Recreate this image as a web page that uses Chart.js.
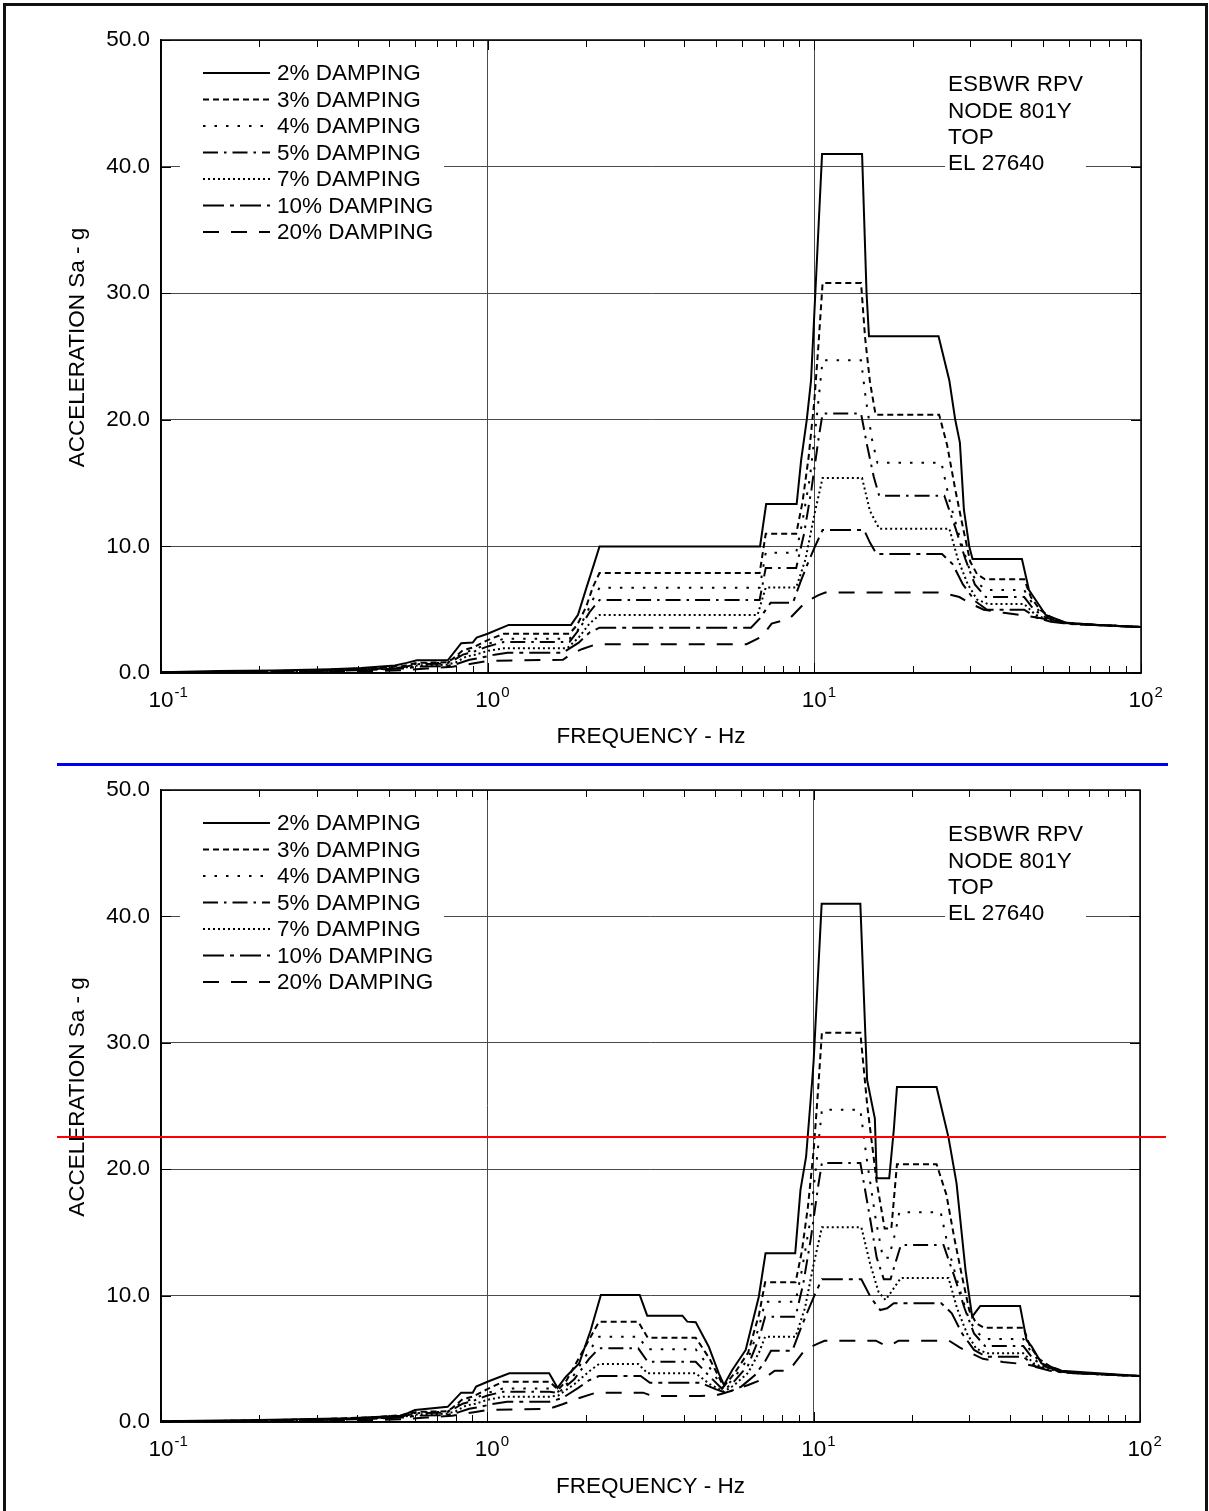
<!DOCTYPE html>
<html>
<head>
<meta charset="utf-8">
<title>ESBWR RPV Node 801Y - Response Spectra</title>
<script src="https://cdn.jsdelivr.net/npm/chart.js@4.4.1/dist/chart.umd.min.js"></script>
<style>
  html, body { margin: 0; padding: 0; background: #fff; }
  body { width: 1209px; height: 1511px; position: relative; overflow: hidden; }
  .frame { position: absolute; left: 3px; top: 3px; width: 1205px; height: 1560px;
           border: 3px solid #111; box-sizing: border-box; }
  .wrap { position: absolute; left: 0; width: 1209px; height: 760px; }
  #topWrap { top: 0; }
  #botWrap { top: 750px; }
  canvas { display: block; }
  .rule { position: absolute; height: 2px; }
  #blueRule { left: 57px; width: 1111px; top: 763px; background: #0000f0; height: 3px; }
  #redRule { left: 57px; width: 1109px; top: 1136px; background: #ff0000; }
</style>
</head>
<body>
<div class="frame"></div>
<div class="wrap" id="topWrap"><canvas id="cTop" width="1209" height="760"></canvas></div>
<div class="wrap" id="botWrap"><canvas id="cBot" width="1209" height="760"></canvas></div>
<div class="rule" id="blueRule"></div>
<div class="rule" id="redRule"></div>

<script>
// ---- labels and ticks ----
const DAMPING = [2, 3, 4, 5, 7, 10, 20];
const FREQ_DECADES = [0.1, 1, 10, 100];
const FREQ_DECADE_BASE = '10';
const FREQ_DECADE_EXP = ['-1', '0', '1', '2'];
const ACC_MIN = 0, ACC_MAX = 50, ACC_STEP = 10;
const NOTE_LINES = ['ESBWR RPV', 'NODE 801Y', 'TOP', 'EL 27640'];
const X_TITLE = 'FREQUENCY - Hz';
const Y_TITLE = 'ACCELERATION Sa - g';

// ---- upper spectra (frequency Hz / acceleration g) ----
const upF2 = [0.1, 0.15, 0.22, 0.33, 0.41, 0.52, 0.565, 0.607, 0.755, 0.83, 0.90, 0.925, 1.0, 1.16, 1.80, 1.89, 2.01, 2.11, 2.20, 6.82, 7.12, 8.83, 9.11, 9.48, 9.77, 10.07, 10.56, 14.0, 14.45, 14.7, 24.0, 25.9, 27.0, 27.9, 28.7, 29.8, 30.5, 43.2, 45.4, 47.6, 51.1, 58.9, 74.4, 100];
const upA2 = [0.05, 0.15, 0.2, 0.3, 0.4, 0.6, 0.8, 1.0, 1.0, 2.35, 2.4, 2.8, 3.1, 3.8, 3.8, 4.6, 6.8, 8.5, 10.0, 10.0, 13.35, 13.35, 16.8, 20.0, 23.1, 30.0, 41.0, 41.0, 30.0, 26.6, 26.6, 23.1, 20.0, 18.2, 12.9, 10.0, 9.0, 9.0, 6.55, 5.77, 4.58, 3.97, 3.79, 3.63];

const upF3 = [0.1, 0.2, 0.33, 0.45, 0.55, 0.61, 0.75, 0.78, 0.84, 0.9, 1.0, 1.12, 1.78, 1.88, 2.0, 2.1, 2.2, 6.8, 7.1, 8.8, 9.2, 9.6, 10.0, 10.3, 10.6, 13.9, 14.3, 14.8, 15.4, 24.1, 25.5, 27.0, 28.5, 30.0, 31.5, 33.3, 43.9, 46.0, 49.0, 53.0, 59.0, 74.4, 100];
const upA3 = [0.04, 0.12, 0.25, 0.38, 0.55, 0.8, 0.85, 1.1, 1.8, 2.0, 2.6, 3.1, 3.1, 3.8, 5.2, 6.8, 7.9, 7.9, 11.0, 11.0, 13.5, 17.0, 21.5, 26.0, 30.8, 30.8, 26.5, 23.0, 20.4, 20.4, 18.0, 14.5, 11.5, 8.8, 7.8, 7.4, 7.4, 6.0, 5.0, 4.4, 3.95, 3.79, 3.63];

const upF4 = [0.1, 0.2, 0.33, 0.45, 0.55, 0.61, 0.75, 0.78, 0.84, 0.9, 1.0, 1.12, 1.78, 1.88, 2.0, 2.1, 2.2, 6.8, 7.1, 8.8, 9.2, 9.7, 10.2, 10.6, 13.9, 14.4, 15.0, 15.6, 24.5, 26.0, 28.0, 30.0, 32.0, 33.5, 43.9, 46.5, 50.0, 54.0, 59.0, 74.4, 100];
const upA4 = [0.04, 0.11, 0.23, 0.35, 0.5, 0.75, 0.8, 1.0, 1.6, 1.8, 2.3, 2.7, 2.7, 3.3, 4.6, 5.8, 6.74, 6.74, 9.5, 9.5, 12.0, 15.5, 20.5, 24.7, 24.7, 21.5, 18.5, 16.6, 16.6, 13.5, 10.5, 8.0, 7.0, 6.55, 6.55, 5.5, 4.6, 4.2, 3.93, 3.79, 3.63];

const upF5 = [0.1, 0.2, 0.33, 0.45, 0.55, 0.61, 0.75, 0.78, 0.84, 0.9, 1.0, 1.12, 1.78, 1.9, 2.05, 2.2, 6.8, 7.1, 8.8, 9.3, 9.8, 10.3, 10.6, 13.9, 14.5, 15.2, 15.8, 25.0, 27.0, 29.0, 31.0, 33.5, 43.9, 47.0, 51.0, 56.0, 60.0, 74.4, 100];
const upA5 = [0.03, 0.1, 0.21, 0.32, 0.45, 0.7, 0.75, 0.95, 1.45, 1.65, 2.1, 2.45, 2.45, 3.4, 4.8, 5.77, 5.77, 8.3, 8.3, 11.0, 14.5, 18.5, 20.5, 20.5, 18.0, 15.5, 14.0, 14.0, 11.5, 9.0, 7.0, 6.0, 6.0, 5.0, 4.4, 4.05, 3.9, 3.79, 3.63];

const upF7 = [0.1, 0.2, 0.33, 0.45, 0.55, 0.61, 0.75, 0.8, 0.86, 0.92, 1.0, 1.12, 1.75, 1.9, 2.05, 2.2, 6.7, 7.1, 8.8, 9.4, 10.0, 10.6, 14.0, 14.8, 15.8, 25.9, 27.5, 29.5, 31.5, 34.0, 43.9, 47.5, 52.0, 57.0, 62.0, 74.4, 100];
const upA7 = [0.03, 0.09, 0.19, 0.29, 0.4, 0.6, 0.65, 0.85, 1.3, 1.45, 1.75, 1.95, 1.95, 2.8, 3.9, 4.58, 4.58, 6.75, 6.75, 9.0, 12.5, 15.4, 15.4, 12.8, 11.4, 11.4, 9.0, 7.0, 5.8, 5.45, 5.45, 4.6, 4.2, 3.98, 3.87, 3.78, 3.63];

const upF10 = [0.1, 0.2, 0.33, 0.45, 0.55, 0.61, 0.75, 0.8, 0.88, 0.95, 1.05, 1.15, 1.7, 1.9, 2.05, 2.2, 6.4, 6.8, 7.35, 8.6, 9.1, 9.6, 10.05, 10.6, 14.2, 14.8, 15.5, 24.6, 26.5, 28.5, 31.0, 33.8, 43.9, 48.0, 53.0, 58.0, 63.0, 74.4, 100];
const upA10 = [0.025, 0.08, 0.17, 0.26, 0.35, 0.5, 0.55, 0.7, 1.05, 1.2, 1.45, 1.6, 1.6, 2.4, 3.2, 3.58, 3.58, 4.3, 5.55, 5.55, 7.3, 8.8, 10.0, 11.3, 11.3, 10.3, 9.4, 9.4, 8.6, 7.0, 5.7, 5.0, 5.0, 4.35, 4.05, 3.92, 3.85, 3.78, 3.63];

const upF20 = [0.1, 0.2, 0.33, 0.45, 0.55, 0.65, 0.78, 0.9, 1.0, 1.7, 1.8, 1.95, 2.15, 6.2, 6.9, 7.4, 8.4, 9.4, 10.3, 10.8, 24.5, 27.8, 30.0, 33.0, 38.0, 45.0, 50.0, 57.0, 74.4, 100];
const upA20 = [0.02, 0.05, 0.1, 0.15, 0.22, 0.35, 0.5, 0.75, 0.95, 1.05, 1.5, 1.9, 2.27, 2.27, 2.87, 3.9, 4.3, 5.6, 6.15, 6.35, 6.35, 6.0, 5.5, 5.0, 4.75, 4.5, 4.3, 4.0, 3.78, 3.63];

// ---- lower spectra (frequency Hz / acceleration g) ----
const loF2 = [0.1, 0.2, 0.38, 0.54, 0.57, 0.6, 0.756, 0.831, 0.902, 0.924, 1.014, 1.168, 1.547, 1.641, 1.741, 1.911, 2.075, 2.228, 2.93, 3.09, 3.96, 4.10, 4.35, 4.77, 5.12, 5.31, 5.63, 6.19, 6.79, 7.12, 8.78, 9.11, 9.48, 9.9, 10.0, 10.58, 13.9, 14.58, 15.4, 15.6, 17.04, 17.6, 18.0, 23.8, 25.9, 27.4, 29.2, 30.6, 32.4, 42.9, 44.9, 46.6, 49.9, 57.5, 74.4, 100];
const loA2 = [0.05, 0.15, 0.29, 0.5, 0.69, 0.95, 1.2, 2.32, 2.32, 2.8, 3.24, 3.85, 3.85, 2.7, 3.58, 4.64, 7.28, 10.05, 10.05, 8.41, 8.41, 7.94, 7.9, 5.96, 3.85, 2.93, 4.11, 5.70, 9.91, 13.35, 13.35, 18.35, 21.0, 27.06, 28.6, 41.0, 41.0, 27.06, 24.0, 19.28, 19.28, 23.1, 26.5, 26.5, 22.5, 18.9, 12.0, 8.33, 9.18, 9.18, 6.49, 5.96, 4.64, 4.06, 3.85, 3.64];

const loF3 = [0.1, 0.2, 0.33, 0.45, 0.55, 0.61, 0.75, 0.78, 0.84, 0.9, 1.0, 1.12, 1.55, 1.65, 1.75, 1.95, 2.2, 2.9, 3.1, 4.35, 4.8, 5.3, 5.7, 6.3, 6.8, 7.1, 8.8, 9.2, 9.6, 10.0, 10.3, 10.6, 13.9, 14.6, 15.6, 16.5, 17.3, 18.0, 23.8, 25.5, 27.0, 28.5, 30.0, 31.5, 33.3, 43.9, 46.0, 49.0, 53.0, 59.0, 74.4, 100];
const loA3 = [0.04, 0.12, 0.25, 0.38, 0.55, 0.8, 0.85, 1.1, 1.8, 2.0, 2.6, 3.19, 3.19, 2.55, 3.3, 5.5, 7.94, 7.94, 6.67, 6.67, 5.0, 2.8, 3.8, 5.5, 8.5, 11.05, 11.05, 13.5, 17.0, 21.5, 26.0, 30.8, 30.8, 25.0, 19.0, 15.3, 15.3, 20.4, 20.4, 18.0, 14.5, 11.5, 8.8, 7.8, 7.46, 7.46, 6.0, 5.0, 4.4, 3.95, 3.79, 3.63];

const loF4 = [0.1, 0.2, 0.33, 0.45, 0.55, 0.61, 0.75, 0.78, 0.84, 0.9, 1.0, 1.12, 1.55, 1.65, 1.8, 2.0, 2.2, 2.9, 3.1, 4.35, 4.8, 5.3, 5.7, 6.3, 6.8, 7.1, 8.8, 9.2, 9.7, 10.2, 10.6, 13.9, 14.6, 15.5, 16.3, 17.0, 17.8, 18.3, 24.5, 26.0, 28.0, 30.0, 32.0, 33.5, 43.9, 46.5, 50.0, 54.0, 59.0, 74.4, 100];
const loA4 = [0.04, 0.11, 0.23, 0.35, 0.5, 0.75, 0.8, 1.0, 1.6, 1.8, 2.3, 2.66, 2.66, 2.4, 3.3, 5.2, 6.75, 6.75, 5.75, 5.75, 4.3, 2.6, 3.5, 5.0, 7.5, 9.52, 9.52, 12.0, 15.5, 20.5, 24.7, 24.7, 20.5, 16.0, 13.0, 13.0, 15.0, 16.6, 16.6, 13.5, 10.5, 8.0, 7.0, 6.57, 6.57, 5.5, 4.6, 4.2, 3.93, 3.79, 3.63];

const loF5 = [0.1, 0.2, 0.33, 0.45, 0.55, 0.61, 0.75, 0.78, 0.84, 0.9, 1.0, 1.12, 1.55, 1.65, 1.85, 2.05, 2.2, 2.9, 3.1, 4.35, 4.8, 5.3, 5.7, 6.3, 6.8, 7.1, 8.8, 9.3, 9.8, 10.3, 10.6, 13.9, 14.8, 15.6, 16.4, 17.2, 18.0, 18.5, 25.0, 27.0, 29.0, 31.0, 33.5, 43.9, 47.0, 51.0, 56.0, 60.0, 74.4, 100];
const loA5 = [0.03, 0.1, 0.21, 0.32, 0.45, 0.7, 0.75, 0.95, 1.45, 1.65, 2.1, 2.4, 2.4, 2.3, 3.4, 5.0, 5.83, 5.83, 4.77, 4.77, 3.6, 2.5, 3.2, 4.5, 6.6, 8.33, 8.33, 11.0, 14.5, 18.5, 20.5, 20.5, 16.5, 13.0, 11.3, 11.3, 13.0, 14.0, 14.0, 11.5, 9.0, 7.0, 6.01, 6.01, 5.0, 4.4, 4.05, 3.9, 3.79, 3.63];

const loF7 = [0.1, 0.2, 0.33, 0.45, 0.55, 0.61, 0.75, 0.8, 0.86, 0.92, 1.0, 1.12, 1.55, 1.65, 1.85, 2.05, 2.2, 2.9, 3.1, 4.35, 4.8, 5.3, 5.7, 6.3, 6.8, 7.1, 8.8, 9.4, 10.0, 10.6, 14.0, 14.9, 15.8, 16.6, 17.3, 18.5, 25.9, 27.5, 29.5, 31.5, 34.0, 43.9, 47.5, 52.0, 57.0, 62.0, 74.4, 100];
const loA7 = [0.03, 0.09, 0.19, 0.29, 0.4, 0.6, 0.65, 0.85, 1.3, 1.45, 1.75, 2.0, 2.0, 2.1, 3.0, 4.0, 4.59, 4.59, 3.85, 3.85, 3.0, 2.4, 2.9, 3.9, 5.5, 6.75, 6.75, 9.0, 12.5, 15.4, 15.4, 12.5, 10.3, 9.65, 10.3, 11.4, 11.4, 9.0, 7.0, 5.8, 5.43, 5.43, 4.6, 4.2, 3.98, 3.87, 3.78, 3.63];

const loF10 = [0.1, 0.2, 0.33, 0.45, 0.55, 0.61, 0.75, 0.8, 0.88, 0.95, 1.05, 1.15, 1.55, 1.7, 1.9, 2.05, 2.2, 2.95, 3.15, 4.5, 5.0, 5.4, 6.0, 6.6, 7.1, 7.4, 8.6, 9.1, 9.6, 10.05, 10.6, 14.0, 15.0, 16.0, 16.8, 17.6, 24.6, 26.5, 28.5, 31.0, 33.8, 43.9, 48.0, 53.0, 58.0, 63.0, 74.4, 100];
const loA10 = [0.025, 0.08, 0.17, 0.26, 0.35, 0.5, 0.55, 0.7, 1.05, 1.2, 1.45, 1.6, 1.6, 1.9, 2.7, 3.3, 3.64, 3.64, 3.11, 3.11, 2.6, 2.3, 2.8, 3.7, 4.8, 5.64, 5.64, 7.3, 8.8, 10.0, 11.3, 11.3, 9.8, 8.86, 9.0, 9.4, 9.4, 8.6, 7.0, 5.7, 5.17, 5.17, 4.35, 4.05, 3.92, 3.85, 3.78, 3.63];

const loF20 = [0.1, 0.2, 0.33, 0.45, 0.55, 0.65, 0.78, 0.9, 1.0, 1.55, 1.7, 1.9, 2.15, 3.0, 3.2, 4.5, 5.0, 5.3, 5.8, 6.3, 7.0, 7.6, 8.4, 9.4, 10.3, 10.8, 15.5, 16.5, 17.3, 18.2, 26.0, 28.0, 30.0, 33.0, 38.0, 45.0, 50.0, 57.0, 74.4, 100];
const loA20 = [0.02, 0.05, 0.1, 0.15, 0.22, 0.35, 0.5, 0.75, 0.95, 1.05, 1.4, 1.87, 2.32, 2.32, 2.06, 2.06, 2.1, 2.27, 2.6, 2.93, 3.4, 4.06, 4.06, 5.7, 6.2, 6.43, 6.43, 6.09, 6.09, 6.43, 6.43, 5.9, 5.5, 5.0, 4.75, 4.55, 4.3, 4.0, 3.78, 3.63];

// ---- styling ----
const FONT_FAMILY = '"Liberation Sans", Arial, Helvetica, sans-serif';
const FONT_SIZE = 22.5;
const FONT = { family: FONT_FAMILY, size: FONT_SIZE };
const EXP_FONT_SIZE = 15;
const LINE_DASHES = [[], [6, 4], [2.5, 9], [15, 6, 2.5, 6], [2, 3], [21, 6, 4, 6], [16, 12]];
const GRID_COLOR = '#4a4a4a';
const X_LABEL_PAD = 14;

Chart.defaults.font.family = FONT_FAMILY;

const isDecade = v => FREQ_DECADES.some(d => Math.abs(d - v) / d < 1e-6);

// tick positions 1..9 per decade on the frequency axis
const LOG_TICKS = [];
for (let e = -1; e < 2; e++) {
  for (let m = 1; m < 10; m++) LOG_TICKS.push(+(m * Math.pow(10, e)).toPrecision(3));
}
LOG_TICKS.push(100);

// inner tick marks, plot frame, exponents, y title, legend and note block
const decor = {
  id: 'decor',
  afterDraw(chart) {
    const { ctx, chartArea: a, scales } = chart;
    const xs = scales.x, ys = scales.y;
    ctx.save();
    ctx.strokeStyle = '#000';
    ctx.lineWidth = 1;
    ctx.beginPath();
    xs.ticks.forEach(t => {
      const px = Math.round(xs.getPixelForValue(t.value)) + 0.5;
      const len = isDecade(t.value) ? 10 : 7;
      ctx.moveTo(px, a.bottom); ctx.lineTo(px, a.bottom - len);
      ctx.moveTo(px, a.top); ctx.lineTo(px, a.top + len);
    });
    ys.ticks.forEach(t => {
      const py = Math.round(ys.getPixelForValue(t.value)) + 0.5;
      ctx.moveTo(a.left, py); ctx.lineTo(a.left + 10, py);
      ctx.moveTo(a.right, py); ctx.lineTo(a.right - 10, py);
    });
    ctx.stroke();

    ctx.lineWidth = 1.5;
    ctx.strokeRect(a.left, a.top, a.right - a.left, a.bottom - a.top);

    // decade exponents next to the "10" tick labels
    ctx.fillStyle = '#000';
    ctx.font = FONT_SIZE + 'px ' + FONT_FAMILY;
    const baseHalf = ctx.measureText(FREQ_DECADE_BASE).width / 2;
    const labelMid = a.bottom + X_LABEL_PAD + FONT_SIZE * 1.2 / 2;
    ctx.font = EXP_FONT_SIZE + 'px ' + FONT_FAMILY;
    ctx.textAlign = 'left';
    ctx.textBaseline = 'middle';
    FREQ_DECADES.forEach((d, i) => {
      const px = xs.getPixelForValue(d);
      ctx.fillText(FREQ_DECADE_EXP[i], px + baseHalf + 1, labelMid - 8);
    });

    // vertical axis title
    ctx.font = FONT_SIZE + 'px ' + FONT_FAMILY;
    ctx.save();
    ctx.translate(78, (a.top + a.bottom) / 2 - 9);
    ctx.rotate(-Math.PI / 2);
    ctx.textAlign = 'center';
    ctx.textBaseline = 'middle';
    ctx.fillText(Y_TITLE, 0, 0);
    ctx.restore();

    // legend
    ctx.fillStyle = '#fff';
    ctx.fillRect(a.left + 19, a.top + 15, 264, 190);
    ctx.textBaseline = 'middle';
    ctx.textAlign = 'left';
    chart.data.datasets.forEach((ds, i) => {
      const yy = a.top + 33 + i * 26.5;
      ctx.strokeStyle = '#000';
      ctx.lineWidth = 2;
      ctx.setLineDash(ds.borderDash || []);
      ctx.beginPath();
      ctx.moveTo(a.left + 42, yy);
      ctx.lineTo(a.left + 109, yy);
      ctx.stroke();
      ctx.setLineDash([]);
      ctx.fillStyle = '#000';
      ctx.fillText(ds.label, a.left + 116, yy + 1);
    });

    // note block
    ctx.fillStyle = '#fff';
    ctx.fillRect(a.left + 784, a.top + 30, 141, 110);
    ctx.fillStyle = '#000';
    NOTE_LINES.forEach((s, k) => ctx.fillText(s, a.left + 787, a.top + 45 + k * 26.4));
    ctx.restore();
  }
};

function makeChart(canvasId, freqs, accs, axisHeight, rightPad) {
  const datasets = DAMPING.map((d, i) => ({
    label: d + '% DAMPING',
    data: freqs[i].map((f, k) => ({ x: f, y: accs[i][k] })),
    borderColor: '#000',
    borderWidth: 2,
    borderDash: LINE_DASHES[i],
    pointRadius: 0,
    fill: false,
    tension: 0
  }));
  return new Chart(document.getElementById(canvasId), {
    type: 'line',
    data: { datasets },
    options: {
      responsive: false,
      animation: false,
      events: [],
      layout: { padding: { left: 0, right: rightPad, top: 40, bottom: 0 } },
      plugins: { legend: { display: false }, tooltip: { enabled: false } },
      scales: {
        x: {
          type: 'logarithmic',
          min: 0.1,
          max: 100,
          afterBuildTicks: s => { s.ticks = LOG_TICKS.map(v => ({ value: v })); },
          afterFit: s => { s.height = axisHeight; },
          ticks: {
            autoSkip: false, maxRotation: 0, padding: X_LABEL_PAD, color: '#000', font: FONT,
            callback: v => (isDecade(v) ? FREQ_DECADE_BASE : '')
          },
          grid: {
            drawTicks: false,
            lineWidth: 1,
            color: c => (c.tick && isDecade(c.tick.value)) ? GRID_COLOR : 'rgba(0,0,0,0)'
          },
          border: { color: '#000', width: 1.5 },
          title: { display: true, text: X_TITLE, color: '#000', font: FONT, padding: { top: 0, bottom: 10 } }
        },
        y: {
          min: ACC_MIN,
          max: ACC_MAX,
          afterFit: s => { s.width = 161; },
          ticks: { stepSize: ACC_STEP, padding: 11, color: '#000', font: FONT, callback: v => v.toFixed(1) },
          grid: { drawTicks: false, lineWidth: 1, color: GRID_COLOR },
          border: { color: '#000', width: 1.5 },
          title: { display: false, text: Y_TITLE }
        }
      }
    },
    plugins: [decor]
  });
}

makeChart('cTop',
  [upF2, upF3, upF4, upF5, upF7, upF10, upF20],
  [upA2, upA3, upA4, upA5, upA7, upA10, upA20], 87, 68);
makeChart('cBot',
  [loF2, loF3, loF4, loF5, loF7, loF10, loF20],
  [loA2, loA3, loA4, loA5, loA7, loA10, loA20], 88, 69);
</script>
</body>
</html>
